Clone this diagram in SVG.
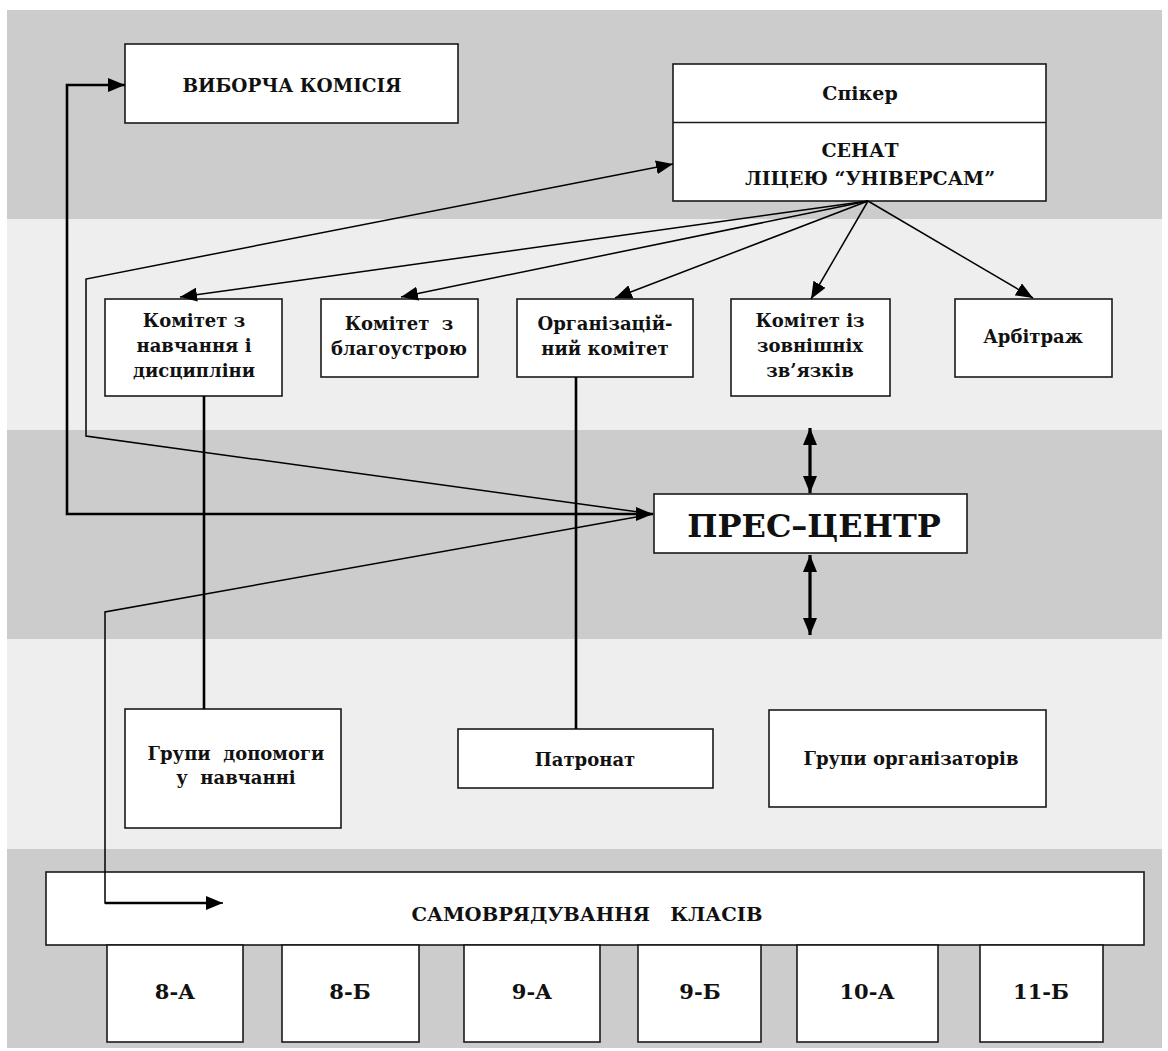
<svg xmlns="http://www.w3.org/2000/svg" width="1168" height="1051" viewBox="0 0 1168 1051">
<style>
.box{fill:#fff;stroke:#1a1a1a;stroke-width:1.6}
.t{font-family:"DejaVu Serif","Liberation Serif",serif;font-weight:bold;fill:#111;text-anchor:middle}
.k{font-size:18px}
.c{fill:none;stroke:#000;stroke-width:1.5}
.ck{fill:none;stroke:#000;stroke-width:2.6}
.cb{fill:none;stroke:#000;stroke-width:3.2}
</style>
<defs>
<marker id="ah" markerUnits="userSpaceOnUse" markerWidth="17" markerHeight="14" refX="17" refY="7" orient="auto-start-reverse">
<path d="M0,0 L17,7 L0,14 z" fill="#000"/>
</marker>
</defs>
<rect x="0" y="0" width="1168" height="1051" fill="#fff"/>
<g id="bands">
<rect x="7" y="10" width="1155" height="209" fill="#cccccc"/>
<rect x="7" y="219" width="1155" height="211" fill="#eeeeee"/>
<rect x="7" y="430" width="1155" height="209" fill="#cccccc"/>
<rect x="7" y="639" width="1155" height="210" fill="#eeeeee"/>
<rect x="7" y="849" width="1155" height="199" fill="#cccccc"/>
</g>
<g id="vybocha">
<rect class="box" x="125" y="44" width="333" height="79"/>
<text class="t" x="292" y="92" font-size="18.5">ВИБОРЧА КОМІСІЯ</text>
</g>
<g id="senat">
<rect class="box" x="673" y="64" width="373" height="137"/>
<line x1="673" y1="122.5" x2="1046" y2="122.5" stroke="#1a1a1a" stroke-width="1.6"/>
<text class="t" x="860" y="100" font-size="19">Спікер</text>
<text class="t" x="860" y="157" font-size="19">СЕНАТ</text>
<text class="t" x="870" y="185" font-size="19">ЛІЦЕЮ “УНІВЕРСАМ”</text>
</g>
<g id="komitet-navch">
<rect class="box" x="105" y="299" width="177" height="97"/>
<text class="t k" x="194" y="327">Комітет з</text>
<text class="t k" x="194" y="352">навчання і</text>
<text class="t k" x="194" y="377">дисципліни</text>
</g>
<g id="komitet-blag">
<rect class="box" x="321" y="299" width="157" height="78"/>
<text class="t k" x="399" y="330" style="white-space:pre">Комітет  з</text>
<text class="t k" x="399" y="355">благоустрою</text>
</g>
<g id="org-komitet">
<rect class="box" x="517" y="299" width="176" height="78"/>
<text class="t k" x="605" y="330">Організацій-</text>
<text class="t k" x="605" y="355">ний комітет</text>
</g>
<g id="komitet-zovn">
<rect class="box" x="731" y="299" width="159" height="97"/>
<text class="t k" x="810" y="327">Комітет із</text>
<text class="t k" x="810" y="352">зовнішніх</text>
<text class="t k" x="810" y="377">зв’язків</text>
</g>
<g id="arbitrazh">
<rect class="box" x="955" y="299" width="157" height="78"/>
<text class="t k" x="1033" y="343">Арбітраж</text>
</g>
<g id="pres-centr">
<rect class="box" x="654" y="494" width="313" height="59"/>
<text class="t" x="814" y="537" font-size="32">ПРЕС–ЦЕНТР</text>
</g>
<g id="grupy-dopomogy">
<rect class="box" x="125" y="709" width="216" height="119"/>
<text class="t k" x="236" y="760" style="white-space:pre">Групи  допомоги</text>
<text class="t k" x="236" y="784" style="white-space:pre">у  навчанні</text>
</g>
<g id="patronat">
<rect class="box" x="458" y="729" width="255" height="59"/>
<text class="t k" x="585" y="766">Патронат</text>
</g>
<g id="grupy-org">
<rect class="box" x="769" y="710" width="277" height="97"/>
<text class="t k" x="911" y="765">Групи організаторів</text>
</g>
<g id="samovr">
<rect class="box" x="46" y="872" width="1098" height="73"/>
<text class="t" x="587" y="921" font-size="18" style="white-space:pre" textLength="351" lengthAdjust="spacingAndGlyphs">САМОВРЯДУВАННЯ   КЛАСІВ</text>
</g>
<g id="klas-8a"><rect class="box" x="107" y="945" width="136" height="97"/><text class="t" x="175" y="999" font-size="21">8-А</text></g>
<g id="klas-8b"><rect class="box" x="282" y="945" width="137" height="97"/><text class="t" x="350" y="999" font-size="21">8-Б</text></g>
<g id="klas-9a"><rect class="box" x="464" y="945" width="136" height="97"/><text class="t" x="532" y="999" font-size="21">9-А</text></g>
<g id="klas-9b"><rect class="box" x="638" y="945" width="123" height="97"/><text class="t" x="700" y="999" font-size="21">9-Б</text></g>
<g id="klas-10a"><rect class="box" x="797" y="945" width="141" height="97"/><text class="t" x="867" y="999" font-size="21">10-А</text></g>
<g id="klas-11b"><rect class="box" x="980" y="945" width="123" height="97"/><text class="t" x="1041" y="999" font-size="21">11-Б</text></g>
<g id="connectors">
<line class="c" x1="868" y1="201" x2="180" y2="297" marker-end="url(#ah)"/>
<line class="c" x1="868" y1="201" x2="401" y2="297" marker-end="url(#ah)"/>
<line class="c" x1="868" y1="201" x2="615" y2="298" marker-end="url(#ah)"/>
<line class="c" x1="868" y1="201" x2="811" y2="299" marker-end="url(#ah)"/>
<line class="c" x1="868" y1="201" x2="1033" y2="298" marker-end="url(#ah)"/>
<polyline class="c" points="653,514 86,436 86,279 673,164" marker-end="url(#ah)"/>
<polyline class="ck" points="653,514 67,514 67,85 125,85" marker-start="url(#ah)" marker-end="url(#ah)"/>
<polyline class="c" points="653,514 105,612 105,903 223,903" marker-end="url(#ah)"/>
<line class="ck" x1="105" y1="903" x2="210" y2="903"/>
<line class="ck" x1="204" y1="396" x2="204" y2="709"/>
<line class="ck" x1="576" y1="377" x2="576" y2="729"/>
<line class="cb" x1="810" y1="428" x2="810" y2="493" marker-start="url(#ah)" marker-end="url(#ah)"/>
<line class="cb" x1="810" y1="555" x2="810" y2="635" marker-start="url(#ah)" marker-end="url(#ah)"/>
</g>
</svg>
